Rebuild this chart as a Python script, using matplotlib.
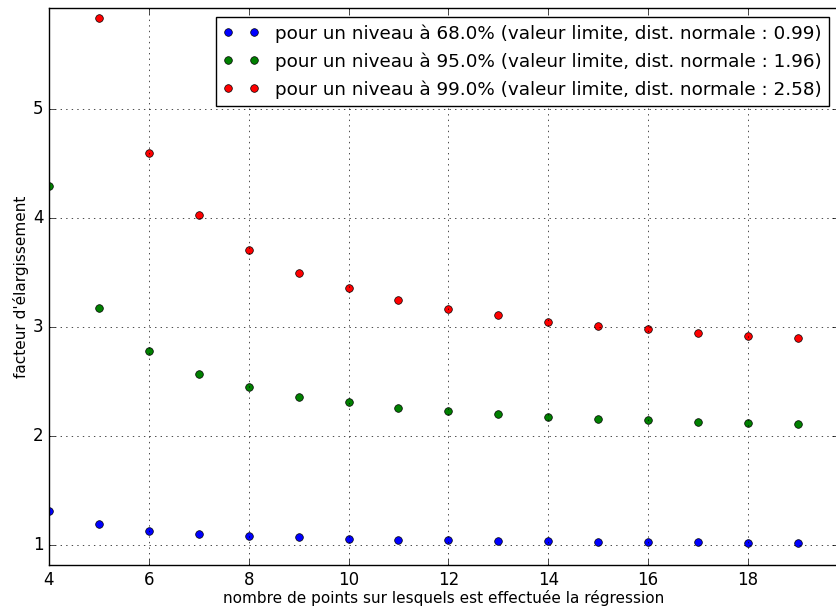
import matplotlib
matplotlib.use("Agg")
import matplotlib.pyplot as plt

plt.style.use('classic')

# nombre de points
n = [4, 5, 6, 7, 8, 9, 10, 11, 12, 13, 14, 15, 16, 17, 18, 19]

# facteurs d'élargissement
y_68 = [1.31, 1.19, 1.13, 1.10, 1.08, 1.07, 1.06, 1.05, 1.045, 1.04,
        1.035, 1.03, 1.03, 1.025, 1.02, 1.02]
y_95 = [4.30, 3.18, 2.78, 2.57, 2.45, 2.36, 2.31, 2.26, 2.23, 2.20,
        2.18, 2.16, 2.145, 2.13, 2.12, 2.11]
y_99 = [9.92, 5.84, 4.60, 4.03, 3.71, 3.50, 3.36, 3.25, 3.17, 3.11,
        3.05, 3.01, 2.98, 2.95, 2.92, 2.90]

labels = ['pour un niveau à 68.0% (valeur limite, dist. normale : 0.99)',
          'pour un niveau à 95.0% (valeur limite, dist. normale : 1.96)',
          'pour un niveau à 99.0% (valeur limite, dist. normale : 2.58)']

fig = plt.figure(figsize=(8.37, 6.1), dpi=100)
ax = fig.add_axes([49/837, 45/610, 1 - 49/837 + 0.001, (565-8)/610])

ax.plot(n, y_68, 'bo', ms=5.5, label=labels[0])
ax.plot(n, y_95, 'go', ms=5.5, label=labels[1])
ax.plot(n, y_99, 'ro', ms=5.5, label=labels[2])

ax.set_xlim(4, 19.8)
ax.set_ylim(0.817, 5.93)
ax.set_xticks([4, 6, 8, 10, 12, 14, 16, 18])
ax.set_yticks([1, 2, 3, 4, 5])

ax.set_xlabel('nombre de points sur lesquels est effectuée la régression',
              fontsize=11, labelpad=1)
ax.set_ylabel("facteur d'élargissement", fontsize=11, labelpad=2.5)
ax.grid(True)
ax.legend(loc='upper right', fontsize=13.25, numpoints=2, handlelength=2.0,
          handletextpad=0.85, labelspacing=0.52, borderpad=0.4,
          bbox_to_anchor=(1.001, 1.001))

fig.savefig('out.png', dpi=100)
